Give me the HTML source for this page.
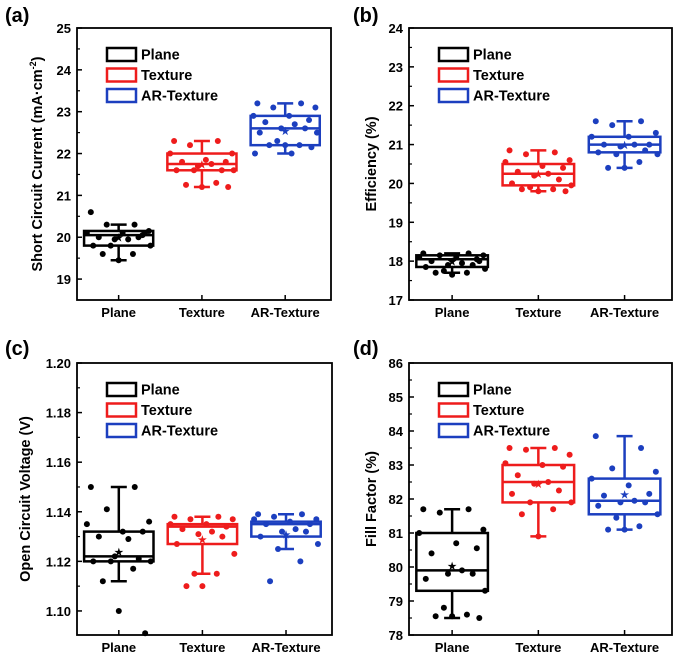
<!DOCTYPE html>
<html><head><meta charset="utf-8"><style>
html,body{margin:0;padding:0;background:#fff;}
svg{display:block;font-family:"Liberation Sans",Arial,sans-serif;font-weight:bold;}
</style></head><body>
<svg id="fig" width="680" height="668" viewBox="0 0 680 668" xmlns="http://www.w3.org/2000/svg"></svg>
<script>
const categories = ["Plane","Texture","AR-Texture"];
const colors = ["#000000","#ee1c1c","#1c3fbf"];
// Panel a: Jsc
const aStats = [ // [whiskLow, q1, median, q3, whiskHigh, mean]
  [19.45,19.8,20.05,20.15,20.3,20.0],
  [21.2,21.6,21.75,22.0,22.3,21.75],
  [22.0,22.2,22.6,22.9,23.2,22.55]];
const aPoints = [
  [20.6,20.3,20.3,20.15,20.1,20.1,20.05,20.0,19.95,19.95,20.0,19.8,19.8,19.8,19.6,19.6,19.45,20.1],
  [22.3,22.3,22.2,22.0,22.0,21.85,21.8,21.8,21.75,21.7,21.6,21.6,21.6,21.6,21.3,21.25,21.2,21.2],
  [23.2,23.2,23.1,23.1,22.9,22.9,22.8,22.75,22.7,22.6,22.6,22.5,22.5,22.3,22.2,22.2,22.2,22.15,22.0,22.0]];
const aTicks = [19,20,21,22,23,24,25];
// Panel b: Efficiency
const bStats = [
  [17.7,17.85,18.05,18.15,18.2,18.0],
  [19.8,19.95,20.25,20.5,20.85,20.25],
  [20.4,20.8,21.0,21.2,21.6,21.0]];
const bPoints = [
  [18.2,18.2,18.15,18.15,18.1,18.1,18.05,18.0,17.95,17.9,17.9,17.85,17.8,17.75,17.7,17.7,17.65,18.0],
  [20.85,20.8,20.75,20.6,20.55,20.45,20.4,20.3,20.25,20.2,20.1,20.0,19.95,19.9,19.85,19.85,19.8,19.8],
  [21.6,21.6,21.5,21.3,21.2,21.2,21.0,21.0,21.0,20.95,20.85,20.8,20.75,20.75,20.55,20.4,20.4]];
const bTicks = [17,18,19,20,21,22,23,24];
// Panel c: Voc
const cStats = [
  [1.112,1.120,1.122,1.132,1.150,1.124],
  [1.115,1.127,1.134,1.135,1.138,1.129],
  [1.125,1.130,1.135,1.136,1.139,1.131]];
const cPoints = [
  [1.150,1.150,1.141,1.136,1.135,1.132,1.132,1.130,1.129,1.122,1.121,1.120,1.120,1.120,1.117,1.112,1.100,1.091],
  [1.138,1.138,1.137,1.137,1.135,1.135,1.134,1.133,1.132,1.131,1.130,1.127,1.123,1.115,1.115,1.110,1.110],
  [1.139,1.139,1.138,1.137,1.137,1.136,1.135,1.135,1.133,1.132,1.132,1.130,1.127,1.125,1.120,1.112]];
const cTicks = [1.10,1.12,1.14,1.16,1.18,1.20];
// Panel d: FF
const dStats = [
  [78.5,79.3,79.9,81.0,81.7,80.05],
  [80.9,81.9,82.5,83.0,83.5,82.45],
  [81.1,81.55,81.95,82.6,83.85,82.15]];
const dPoints = [
  [81.7,81.7,81.6,81.1,81.0,80.7,80.55,80.4,79.9,79.8,79.8,79.65,79.3,78.8,78.6,78.55,78.55,78.5],
  [83.5,83.5,83.45,83.3,83.05,83.0,82.95,82.7,82.5,82.45,82.25,82.15,81.9,81.9,81.7,81.55,80.9],
  [83.85,83.5,82.9,82.8,82.6,82.4,82.15,82.1,81.95,81.9,81.9,81.8,81.55,81.45,81.2,81.1,81.1]];
const dTicks = [78,79,80,81,82,83,84,85,86];

const jitter = [-0.35,0.2,-0.15,0.38,-0.4,0.05,0.3,-0.25,0.12,-0.05,0.25,-0.32,0.4,-0.1,0.18,-0.2,0.0,0.33,-0.38,0.08];

const NS="http://www.w3.org/2000/svg";
const svg=document.getElementById('fig');
function mk(tag,attrs,parent){const e=document.createElementNS(NS,tag);for(const k in attrs)e.setAttribute(k,attrs[k]);(parent||svg).appendChild(e);return e;}

function panel(o){
  const g=mk('g',{});
  
  
  const L=o.x0,R=o.x1,T=o.y0,B=o.y1;
  const yS=v=>B-(v-o.ymin)/(o.ymax-o.ymin)*(B-T);
  const step=(R-L)/3.05;
  const xS=i=>L+step*(0.5+i)+ (i===0?0:0);
  // label
  const lab=mk('text',{x:o.lx,y:o.ly,'font-size':20},g);lab.textContent=o.label;
  
  // ticks
  const tstep=o.ticks[1]-o.ticks[0];
  o.ticks.forEach((t,k)=>{
    const y=yS(t);
    mk('line',{x1:L,x2:L+5,y1:y,y2:y,stroke:'#000','stroke-width':1.5},g);
    const tx=mk('text',{x:L-6,y:y+5,'font-size':13,'text-anchor':'end'},g);
    tx.textContent=o.fmt(t);
    
    if(k<o.ticks.length-1){const ym=yS(t+tstep/2);mk('line',{x1:L,x2:L+3,y1:ym,y2:ym,stroke:'#000','stroke-width':1.2},g);}
  });
  const yb=yS(o.ticks[0]-tstep/2); if(yb<B) mk('line',{x1:L,x2:L+3,y1:yb,y2:yb,stroke:'#000','stroke-width':1.2},g);
  // axis title
  const yt=mk('text',{x:0,y:0,'font-size':14.5,'text-anchor':'middle',transform:`translate(${o.tx},${(T+B)/2}) rotate(-90)`},g);
  yt.innerHTML=o.title;
  
  // categories
  const bw=step*0.83;
  categories.forEach((c,i)=>{
    const cx=xS(i);
    mk('line',{x1:cx,x2:cx,y1:B,y2:B-5,stroke:'#000','stroke-width':1.5},g);
    const ct=mk('text',{x:cx,y:B+17,'font-size':13,'text-anchor':'middle'},g);ct.textContent=c;
    
    const s=o.stats[i],col=colors[i];
    const bg=mk('g',{},g);
    
    
    mk('line',{x1:cx,x2:cx,y1:yS(s[0]),y2:yS(s[1]),stroke:col,'stroke-width':2.5},bg);
    mk('line',{x1:cx,x2:cx,y1:yS(s[3]),y2:yS(s[4]),stroke:col,'stroke-width':2.5},bg);
    mk('line',{x1:cx-8,x2:cx+8,y1:yS(s[0]),y2:yS(s[0]),stroke:col,'stroke-width':2.5},bg);
    mk('line',{x1:cx-8,x2:cx+8,y1:yS(s[4]),y2:yS(s[4]),stroke:col,'stroke-width':2.5},bg);
    mk('rect',{x:cx-bw/2,y:yS(s[3]),width:bw,height:yS(s[1])-yS(s[3]),fill:'none',stroke:col,'stroke-width':2.5},bg);
    mk('line',{x1:cx-bw/2,x2:cx+bw/2,y1:yS(s[2]),y2:yS(s[2]),stroke:col,'stroke-width':2.5},bg);
    const m=mk('text',{x:cx,y:yS(s[5])+4,'font-size':10,'text-anchor':'middle',fill:col},bg);m.textContent='★';
    o.pts[i].forEach((v,j)=>{
      const p=mk('circle',{cx:cx+jitter[j%jitter.length]*bw*1.15,cy:yS(v),r:3,fill:col},bg);
      
      
    });
  });
  // frame
  mk('rect',{x:L,y:T,width:R-L,height:B-T,fill:'none',stroke:'#000','stroke-width':1.8},g);
  // legend
  const lg=mk('g',{},g);
  
  categories.forEach((c,i)=>{
    const y=o.legY+i*20.5;
    mk('rect',{x:L+30,y:y-6,width:29,height:13,fill:'none',stroke:colors[i],'stroke-width':2.5},lg);
    const t=mk('text',{x:L+64,y:y+5.5,'font-size':14.5},lg);t.textContent=c;
    
  });
}
panel({name:'panel-a-jsc',label:'(a)',lx:5,ly:22,x0:77,x1:331,y0:28,y1:300,ymin:18.5,ymax:25,ticks:aTicks,fmt:t=>String(t),
  title:'Short Circuit Current (mA·cm<tspan dy="-6" font-size="9">-2</tspan><tspan dy="6">)</tspan>',tx:42,stats:aStats,pts:aPoints,legY:54});
panel({name:'panel-b-efficiency',label:'(b)',lx:353,ly:22,x0:409,x1:672,y0:28,y1:300,ymin:17,ymax:24,ticks:bTicks,fmt:t=>String(t),
  title:'Efficiency (%)',tx:376,stats:bStats,pts:bPoints,legY:54});
panel({name:'panel-c-voc',label:'(c)',lx:5,ly:355,x0:77,x1:332,y0:363,y1:635,ymin:1.0903,ymax:1.20,ticks:cTicks,fmt:t=>t.toFixed(2),
  title:'Open Circuit Voltage (V)',tx:30,stats:cStats,pts:cPoints,legY:389});
panel({name:'panel-d-ff',label:'(d)',lx:353,ly:355,x0:409,x1:672,y0:363,y1:635,ymin:78,ymax:86,ticks:dTicks,fmt:t=>String(t),
  title:'Fill Factor (%)',tx:376,stats:dStats,pts:dPoints,legY:389});
</script>
</body></html>
